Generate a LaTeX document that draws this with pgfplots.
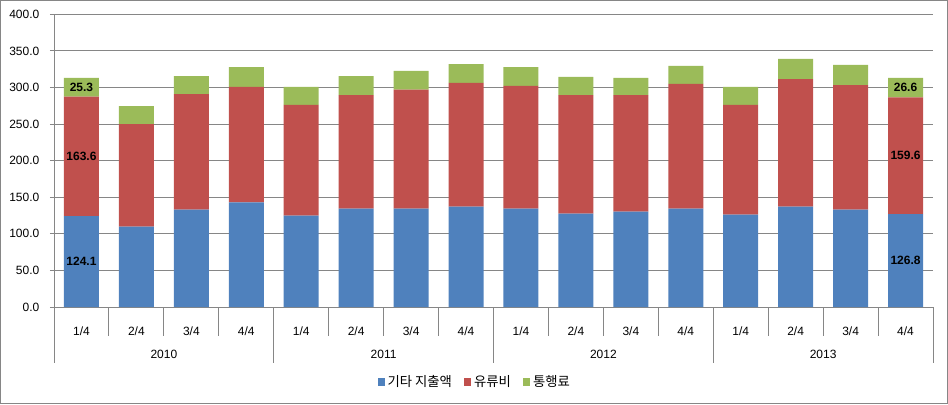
\documentclass[border=0pt]{standalone}
\usepackage{fontspec}
\setmainfont{Liberation Sans}
\newfontfamily\kr{Noto Sans CJK KR}
\usepackage{pgfplots}
\usepackage{pgfplotstable}
\pgfplotsset{compat=1.18}
\definecolor{cblue}{HTML}{4F81BD}
\definecolor{cred}{HTML}{C0504D}
\definecolor{cgreen}{HTML}{9BBB59}
\definecolor{cgrid}{HTML}{868686}
\pgfplotstableread{
x other fuel toll
0  124.1 163.6 25.3
1  109.8 140.3 24.6
2  133.0 158.1 24.6
3  143.1 157.6 27.3
4  124.8 151.3 24.6
5  134.4 155.3 26.0
6  134.4 162.6 25.6
7  137.1 169.1 25.9
8  134.4 167.7 25.9
9  127.6 162.1 24.7
10 130.3 159.4 23.3
11 134.4 170.4 24.6
12 126.2 149.9 24.6
13 137.1 174.5 27.4
14 133.0 170.4 27.4
15 126.8 159.6 26.6
}\datatable
\begin{document}
\begin{tikzpicture}
\draw[cgrid, line width=0.75pt] (0.375pt,0.375pt) rectangle (710.625pt,302.625pt);
\begin{axis}[
  at={(40.5pt,72.75pt)}, anchor=south west,
  scale only axis, width=659.25pt, height=219.5pt,
  xmin=-0.5, xmax=15.5, ymin=0, ymax=400,
  ybar stacked, bar width=26.25pt,
  axis lines*=left, axis line style={cgrid, line width=0.75pt},
  ytick distance=50, ymajorgrids, grid style={cgrid, line width=0.75pt},
  tick align=outside, major tick length=3pt, tick style={cgrid, line width=0.75pt},
  xtick={0,...,15}, xtick style={draw=none},
  xticklabels={1/4,2/4,3/4,4/4,1/4,2/4,3/4,4/4,1/4,2/4,3/4,4/4,1/4,2/4,3/4,4/4},
  xticklabel style={font=\fontsize{9}{10}\selectfont, anchor=center, yshift=-14.8pt},
  yticklabel style={font=\fontsize{9}{10}\selectfont, xshift=-4.5pt, /pgf/number format/.cd, fixed, fixed zerofill, precision=1},
  /pgf/number format/assume math mode=true,
  clip=false,
  legend style={at={(0.479,-0.256)}, anchor=center, draw=none, legend columns=-1,
    font=\kr\fontsize{10}{11}\selectfont,
    /tikz/every even column/.append style={column sep=7pt}},
  legend image code/.code={\fill[#1] (0pt,-2.8pt) rectangle (5.6pt,2.8pt);},
]
\addplot[fill=cblue, draw=none] table[x=x, y=other] {\datatable};
\addplot[fill=cred, draw=none] table[x=x, y=fuel] {\datatable};
\addplot[fill=cgreen, draw=none] table[x=x, y=toll] {\datatable};
\legend{기타 지출액, 유류비, 통행료}
\pgfplotsinvokeforeach{0.5,1.5,2.5,4.5,5.5,6.5,8.5,9.5,10.5,12.5,13.5,14.5}{
  \draw[cgrid, line width=0.75pt] (axis cs:#1,0) -- ++(0pt,-21.75pt);
}
\pgfplotsinvokeforeach{-0.5,3.5,7.5,11.5,15.5}{
  \draw[cgrid, line width=0.75pt] (axis cs:#1,0) -- ++(0pt,-42pt);
}
\node[font=\fontsize{9}{10}\selectfont] at ([yshift=-35.5pt]axis cs:1.5,0) {2010};
\node[font=\fontsize{9}{10}\selectfont] at ([yshift=-35.5pt]axis cs:5.5,0) {2011};
\node[font=\fontsize{9}{10}\selectfont] at ([yshift=-35.5pt]axis cs:9.5,0) {2012};
\node[font=\fontsize{9}{10}\selectfont] at ([yshift=-35.5pt]axis cs:13.5,0) {2013};
\coordinate (a1) at (axis cs:0,62.05);
\coordinate (a2) at (axis cs:0,205.9);
\coordinate (a3) at (axis cs:0,300.35);
\coordinate (b1) at (axis cs:15,63.4);
\coordinate (b2) at (axis cs:15,206.6);
\coordinate (b3) at (axis cs:15,299.7);
\end{axis}
\begin{scope}[every node/.style={font=\bfseries\fontsize{9}{10}\selectfont}]
\node at (a1) {124.1};
\node at (a2) {163.6};
\node at (a3) {25.3};
\node at (b1) {126.8};
\node at (b2) {159.6};
\node at (b3) {26.6};
\end{scope}
\end{tikzpicture}
\end{document}
